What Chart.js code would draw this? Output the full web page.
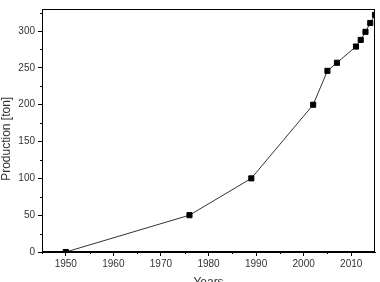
<!DOCTYPE html>
<html>
<head>
<meta charset="utf-8">
<script src="https://cdn.jsdelivr.net/npm/chart.js@4/dist/chart.umd.min.js"></script>
<style>
  html, body { margin: 0; padding: 0; background: #fff; }
  #wrap { width: 380px; height: 282px; }
</style>
</head>
<body>
<div id="wrap"><canvas id="myChart"></canvas></div>
<script>
var years = [1950, 1976, 1989, 2002, 2005, 2007, 2011, 2012, 2013, 2014, 2015];
var production = [0, 50, 100, 200, 246, 257, 279, 288, 299, 311, 322];
var xTicks = [1950, 1960, 1970, 1980, 1990, 2000, 2010];
var xMinor = [1945, 1955, 1965, 1975, 1985, 1995, 2005, 2015];
var yTicks = [0, 50, 100, 150, 200, 250, 300];
var yMinor = [25, 75, 125, 175, 225, 275, 325];

// frame + minor ticks
var framePlugin = {
    id: 'frame',
    afterDraw: function (chart) {
        var ctx = chart.ctx;
        var a = chart.chartArea;
        var sx = chart.scales.x, sy = chart.scales.y;
        ctx.save();
        ctx.strokeStyle = '#000';
        ctx.lineWidth = 1;
        ctx.strokeRect(a.left + 0.5, a.top + 0.5, a.right - a.left - 1, a.bottom - a.top - 1);
        ctx.beginPath();
        xMinor.forEach(function (v) {
            var px = Math.round(sx.getPixelForValue(v)) + 0.5;
            if (px < a.left || px > a.right) return;
            ctx.moveTo(px, a.bottom);
            ctx.lineTo(px, a.bottom + 2);
        });
        yMinor.forEach(function (v) {
            var py = Math.round(sy.getPixelForValue(v)) + 0.5;
            if (py < a.top || py > a.bottom) return;
            ctx.moveTo(a.left, py);
            ctx.lineTo(a.left - 2, py);
        });
        ctx.stroke();
        ctx.restore();
    }
};

new Chart("myChart", {
    type: "scatter",
    data: {
        datasets: [{
            data: years.map(function (y, i) { return { x: y, y: production[i] }; }),
            showLine: true,
            borderColor: '#333',
            borderWidth: 1,
            backgroundColor: '#000',
            pointStyle: 'rect',
            pointRadius: 3.6,
            pointBorderWidth: 1,
            pointBorderColor: '#000',
            pointBackgroundColor: '#000'
        }]
    },
    options: {
        responsive: true,
        maintainAspectRatio: false,
        animation: false,
        layout: { padding: { top: 3, right: 4, left: 0, bottom: 0 } },
        plugins: {
            legend: { display: false },
            tooltip: { enabled: false }
        },
        scales: {
            x: {
                type: 'linear',
                min: 1945,
                max: 2015,
                afterBuildTicks: function (s) { s.ticks = xTicks.map(function (v) { return { value: v }; }); },
                afterFit: function (s) { s.height = 30; },
                grid: { drawOnChartArea: false, tickLength: 4, tickColor: '#000' },
                border: { color: '#000', width: 1 },
                ticks: {
                    padding: 2,
                    color: '#333',
                    maxRotation: 0,
                    font: { family: 'Liberation Sans', size: 10 },
                    callback: function (v) { return String(v); }
                },
                title: {
                    display: true,
                    text: 'Years',
                    color: '#333',
                    font: { family: 'Liberation Sans', size: 12, lineHeight: 1 },
                    padding: { top: 0, bottom: -7 }
                }
            },
            y: {
                min: 0,
                max: 330,
                afterBuildTicks: function (s) { s.ticks = yTicks.map(function (v) { return { value: v }; }); },
                afterFit: function (s) { s.width = 42; },
                grid: { drawOnChartArea: false, tickLength: 4, tickColor: '#000' },
                border: { color: '#000', width: 1 },
                ticks: {
                    padding: 3,
                    color: '#333',
                    font: { family: 'Liberation Sans', size: 10 },
                    callback: function (v) { return String(v); }
                },
                title: {
                    display: true,
                    text: 'Production [ton]     ',
                    color: '#333',
                    font: { family: 'Liberation Sans', size: 12, lineHeight: 1 },
                    padding: { top: 1, bottom: 0 }
                }
            }
        }
    },
    plugins: [framePlugin]
});
</script>
</body>
</html>
